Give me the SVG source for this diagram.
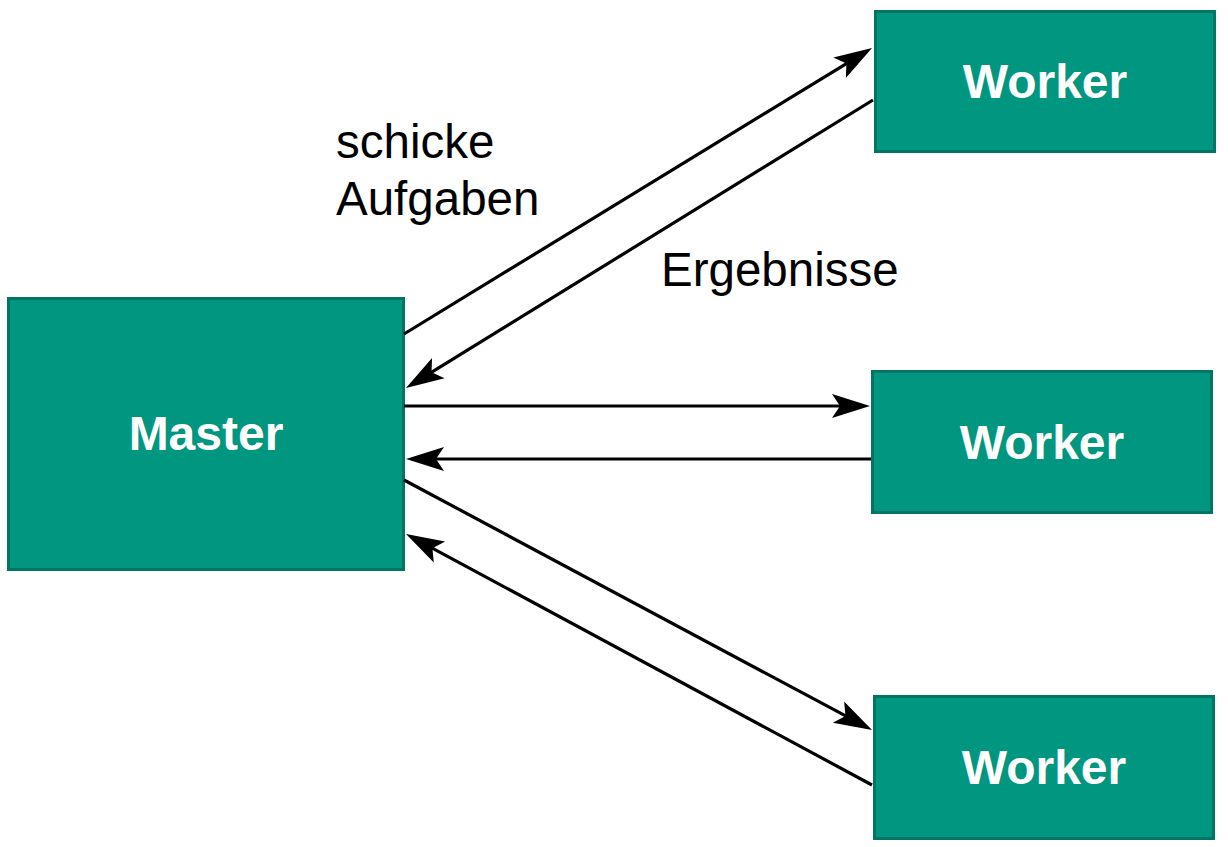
<svg xmlns="http://www.w3.org/2000/svg" width="1228" height="847" viewBox="0 0 1228 847">
<style>
.box{fill:#00967f;stroke:#007563;stroke-width:3}
.nt{font-family:"Liberation Sans",Arial,sans-serif;font-weight:bold;font-size:48px;fill:#ffffff;text-anchor:middle}
.lbl{font-family:"Liberation Sans",Arial,sans-serif;font-size:47.5px;fill:#000000}
.con{stroke:#000000;stroke-width:3.2;fill:none;marker-end:url(#ah)}
</style>
<defs>
<marker id="ah" markerUnits="userSpaceOnUse" orient="auto" refX="-6" refY="0" markerWidth="50" markerHeight="30" viewBox="-45 -15 50 30" overflow="visible">
<path d="M0,0 L-38,-12 L-30,0 L-38,12 Z" fill="#000000"/>
</marker>
</defs>
<rect width="1228" height="847" fill="#ffffff"/>
<g id="master">
<rect class="box" x="8.5" y="298.5" width="395" height="271"/>
<text class="nt" x="206" y="450">Master</text>
</g>
<g id="worker1">
<rect class="box" x="875.5" y="11.5" width="339" height="140"/>
<text class="nt" x="1045" y="98">Worker</text>
</g>
<g id="worker2">
<rect class="box" x="872.5" y="371.5" width="339" height="141"/>
<text class="nt" x="1042" y="459">Worker</text>
</g>
<g id="worker3">
<rect class="box" x="874.5" y="696.5" width="339" height="142"/>
<text class="nt" x="1044" y="784">Worker</text>
</g>
<g id="connectors">
<line class="con" x1="404" y1="334" x2="866.9" y2="51.1"/>
<line class="con" x1="873" y1="100" x2="411.1" y2="384.9"/>
<line class="con" x1="404" y1="406" x2="864" y2="406"/>
<line class="con" x1="871" y1="459" x2="412" y2="459"/>
<line class="con" x1="404" y1="480" x2="866.7" y2="727.2"/>
<line class="con" x1="872" y1="785" x2="411.3" y2="536.8"/>
</g>
<g id="labels">
<text class="lbl" x="336" y="158">schicke</text>
<text class="lbl" x="336" y="215">Aufgaben</text>
<text class="lbl" x="661" y="286">Ergebnisse</text>
</g>
</svg>
